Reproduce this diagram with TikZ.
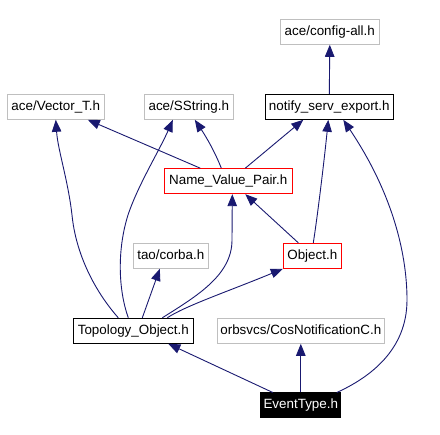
\documentclass[tikz,border=0pt]{standalone}
\usepackage{fontspec}
\setmainfont{Liberation Sans}
\usetikzlibrary{arrows.meta}
\definecolor{edgec}{RGB}{25,25,112}
\definecolor{grayc}{RGB}{191,191,191}
\tikzset{
  box/.style={draw, line width=1pt, inner sep=0pt, minimum height=25pt, font=\fontsize{13.4}{15}\selectfont, text height=9.7pt, text depth=2.8pt},
  graybox/.style={box, draw=grayc},
  blackbox/.style={box, draw=black},
  redbox/.style={box, draw=red},
  filledbox/.style={box, draw=black, fill=black, text=white},
  edge/.style={draw=edgec, line width=0.9pt, -{Triangle[length=12pt,width=9.5pt]}, fill=none},
}
\begin{document}
\begin{tikzpicture}[x=1pt,y=-1pt]
\useasboundingbox (0,0) rectangle (440,435);
\node[graybox, minimum width=99pt] (cfg) at (329.8,31.8) {ace/config-all.h};
\node[graybox, minimum width=97pt] (vec) at (55.8,106.8) {ace/Vector\_T.h};
\node[graybox, minimum width=89pt] (sstr) at (188.8,106.8) {ace/SString.h};
\node[blackbox, minimum width=128pt] (nse) at (329.3,106.8) {notify\_serv\_export.h};
\node[redbox, minimum width=128pt] (nvp) at (228.3,181.2) {Name\_Value\_Pair.h};
\node[graybox, minimum width=75pt] (corba) at (170.8,255.8) {tao/corba.h};
\node[redbox, minimum width=58pt] (obj) at (312.3,255.8) {Object.h};
\node[blackbox, minimum width=120pt] (topo) at (133.3,330.8) {Topology\_Object.h};
\node[graybox, minimum width=167pt] (cos) at (300.8,330.8) {orbsvcs/CosNotificationC.h};
\node[filledbox, minimum width=80pt] (evt) at (300.8,405.5) {EventType.h};

\draw[edge] (nse.north) -- (cfg.south);
\draw[edge] ([xshift=-28pt]nvp.north) -- ([xshift=32pt]vec.south);
\draw[edge] ([xshift=-7pt]nvp.north) .. controls +(-7,-18) and +(10,15) .. ([xshift=6pt]sstr.south);
\draw[edge] ([xshift=17pt]nvp.north) -- ([xshift=-26pt]nse.south);
\draw[edge] ([xshift=-14pt]obj.north) -- ([xshift=17pt]nvp.south);
\draw[edge] ([xshift=1pt]obj.north) .. controls +(4,-25) and +(-4,40) .. ([xshift=-1pt]nse.south);
\draw[edge] ([xshift=-15pt]topo.north) .. controls +(-23,-26) and +(4,40) .. (72,215) .. controls +(-4,-35) and +(2,30) .. (vec.south);
\draw[edge] ([xshift=-5pt]topo.north) .. controls +(-10,-28) and +(-11,35) .. (128,215) .. controls +(10,-30) and +(-13,30) .. ([xshift=-16pt]sstr.south);
\draw[edge] ([xshift=9pt]topo.north) -- ([xshift=-11pt]corba.south);
\draw[edge] ([xshift=29pt]topo.north) .. controls +(35,-22) and +(0,35) .. (232,240) -- ([xshift=4pt]nvp.south);
\draw[edge] ([xshift=34pt]topo.north) .. controls +(18,-12) and +(-53,22) .. (obj.south west);
\draw[edge] ([xshift=-28pt]evt.north) -- ([xshift=35pt]topo.south);
\draw[edge] (evt.north) -- (cos.south);
\draw[edge] ([xshift=36pt]evt.north) .. controls +(33,-15) and +(0,50) .. (407,300) .. controls +(0,-50) and +(47,70) .. ([xshift=14pt]nse.south);
\end{tikzpicture}
\end{document}
